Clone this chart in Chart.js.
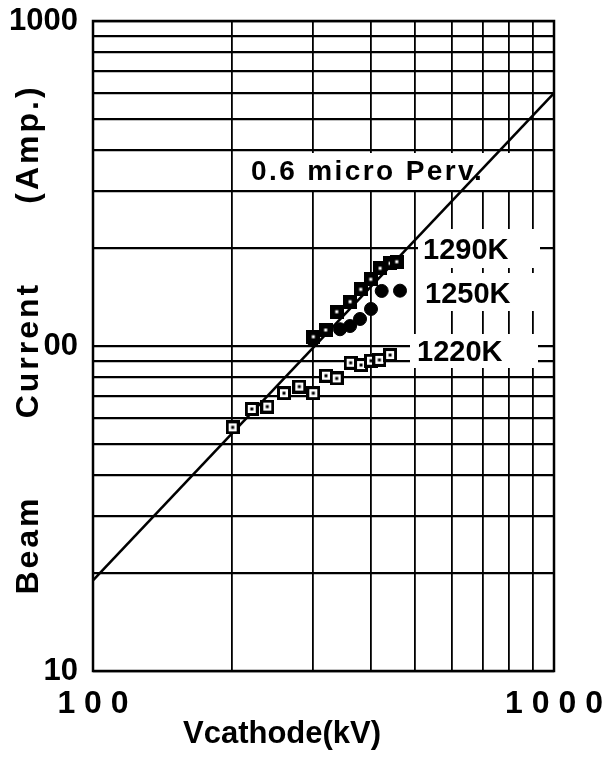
<!DOCTYPE html>
<html>
<head>
<meta charset="utf-8">
<script src="https://cdn.jsdelivr.net/npm/chart.js@4.4.1/dist/chart.umd.min.js"></script>
<style>
  html, body { margin: 0; padding: 0; background: #fff; }
  #wrap { width: 602px; height: 757px; position: relative; }
</style>
</head>
<body>
<div id="wrap"><canvas id="c" width="602" height="757"></canvas></div>
<script>
// ---- data ----
const v1290 = [300.5, 319.7, 337.8, 361.1, 380.8, 400.4, 419.5, 441.0, 455.9];
const i1290 = [106.8, 112.0, 127.5, 136.9, 149.4, 160.4, 173.4, 179.6, 181.7];

const v1250 = [300.0, 343.4, 361.1, 379.5, 400.9, 422.9, 463.4];
const i1250 = [104.3, 112.6, 115.2, 121.1, 130.0, 147.7, 148.0];

const v1220 = [200.9, 221.0, 238.8, 259.6, 280.2, 300.5, 320.2, 337.8, 362.2, 381.4, 400.9, 418.0, 441.0];
const i1220 = [56.2, 64.0, 65.1, 71.6, 75.0, 71.6, 81.0, 79.5, 88.8, 87.4, 90.1, 90.6, 93.8];

const vLine = [100, 1000];   // 0.6 micro-perveance line end points
const iLine = [19.0, 600];

const xGridValues = [100, 200, 300, 400, 500, 600, 700, 800, 900, 1000];
const yGridValues = [10, 20, 30, 40, 50, 60, 70, 80, 90, 100, 200, 300, 400, 500, 600, 700, 800, 900, 1000];
const xTickValues = [100, 1000];
const xTickText = ['1 0 0', '1 0 0 0'];
const yTickValues = [10, 100, 1000];
const yTickText = ['10', '00', '1000'];   // the "1" of 100 is lost in the reference print

const seriesNames = ['1290K', '1250K', '1220K'];
const lineName = '0.6 micro Perv.';
const xTitle = 'Vcathode(kV)';
const yTitleWords = ['Beam', 'Current', '(Amp.)'];

// ---- styling helpers ----
const FONT = '"Liberation Sans", Arial, Helvetica, sans-serif';

function squareMarker(fill, dot) {
  const c = document.createElement('canvas');
  c.width = 14; c.height = 14;
  const g = c.getContext('2d');
  g.fillStyle = '#000';
  g.fillRect(0, 0, 14, 14);
  if (fill !== '#000') {
    g.fillStyle = fill;
    g.fillRect(3, 3, 8, 8);
  }
  g.fillStyle = dot;
  g.fillRect(5.5, 5.5, 3, 3);
  return c;
}
const mark1290 = squareMarker('#000', '#fff');
const mark1220 = squareMarker('#fff', '#000');

const zip = (xs, ys) => xs.map((x, k) => ({ x: x, y: ys[k] }));

const annot = {
  id: 'annot',
  beforeDatasetsDraw(chart) {
    const ctx = chart.ctx;
    ctx.save();
    // white label boxes (they hide the grid in the reference)
    ctx.fillStyle = '#fff';
    ctx.fillRect(236, 153, 282, 37);
    ctx.fillRect(418, 229, 122, 39);
    ctx.fillRect(418, 273, 122, 38);
    ctx.fillRect(410, 334, 128, 34);
    ctx.fillStyle = '#000';
    ctx.textBaseline = 'alphabetic';
    ctx.textAlign = 'left';
    ctx.font = 'bold 28px ' + FONT;
    ctx.letterSpacing = '2.4px';
    ctx.fillText(lineName, 251, 180);
    ctx.letterSpacing = '0px';
    ctx.font = 'bold 29px ' + FONT;
    ctx.fillText(seriesNames[0], 423, 259);
    ctx.fillText(seriesNames[1], 425, 303);
    ctx.fillText(seriesNames[2], 417, 361);
    ctx.restore();
  },
  afterDraw(chart) {
    const ctx = chart.ctx;
    const a = chart.chartArea;
    ctx.save();
    ctx.strokeStyle = '#000';
    ctx.lineWidth = 2.5;
    ctx.strokeRect(a.left, a.top, a.right - a.left, a.bottom - a.top);
    // axis titles
    ctx.fillStyle = '#000';
    ctx.font = 'bold 31px ' + FONT;
    ctx.textAlign = 'left';
    ctx.textBaseline = 'alphabetic';
    ctx.fillText(xTitle, 183, 743);
    ctx.font = 'bold 32px ' + FONT;
    ctx.letterSpacing = '3px';
    ctx.translate(38, 0);
    ctx.rotate(-Math.PI / 2);
    ctx.textAlign = 'center';
    // rotated: x coordinate = -pageY
    const centers = [545, 350, 144];
    yTitleWords.forEach((w, k) => ctx.fillText(w, -centers[k], 0));
    ctx.letterSpacing = '0px';
    ctx.restore();
  }
};

new Chart(document.getElementById('c'), {
  type: 'scatter',
  data: {
    datasets: [
      {
        label: lineName,
        type: 'line',
        data: zip(vLine, iLine),
        borderColor: '#000',
        borderWidth: 2.5,
        pointRadius: 0,
        fill: false,
        order: 4
      },
      {
        label: seriesNames[2],
        data: zip(v1220, i1220),
        pointStyle: mark1220,
        order: 3
      },
      {
        label: seriesNames[1],
        data: zip(v1250, i1250),
        pointStyle: 'circle',
        pointRadius: 6.5,
        backgroundColor: '#000',
        borderColor: '#000',
        order: 2
      },
      {
        label: seriesNames[0],
        data: zip(v1290, i1290),
        pointStyle: mark1290,
        order: 1
      }
    ]
  },
  options: {
    responsive: false,
    animation: false,
    devicePixelRatio: 1,
    layout: { padding: { top: 21, right: 48, left: 0, bottom: 0 } },
    plugins: { legend: { display: false }, tooltip: { enabled: false } },
    scales: {
      x: {
        type: 'logarithmic',
        min: 100, max: 1000,
        grid: { color: '#000', lineWidth: 1.8, borderDash: [1.5, 1.5], drawTicks: false },
        border: { display: false },
        afterBuildTicks: (s) => { s.ticks = xGridValues.map(v => ({ value: v })); },
        ticks: {
          autoSkip: false,
          maxRotation: 0,
          padding: 14,
          color: '#000',
          font: { family: FONT, size: 32, weight: 'bold' },
          callback: (v) => { const k = xTickValues.indexOf(Number(v)); return k >= 0 ? xTickText[k] : ''; }
        },
        afterFit: (s) => { s.height = 86; s.paddingLeft = 0; s.paddingRight = 0; }
      },
      y: {
        type: 'logarithmic',
        min: 10, max: 1000,
        grid: { color: '#000', lineWidth: 2.2, borderDash: [2, 1], drawTicks: false },
        border: { display: false },
        afterBuildTicks: (s) => { s.ticks = yGridValues.map(v => ({ value: v })); },
        ticks: {
          autoSkip: false,
          padding: 15,
          color: '#000',
          font: { family: FONT, size: 31, weight: 'bold' },
          callback: (v) => { const k = yTickValues.indexOf(Number(v)); return k >= 0 ? yTickText[k] : ''; }
        },
        afterFit: (s) => { s.width = 93; s.paddingTop = 0; s.paddingBottom = 0; }
      }
    }
  },
  plugins: [annot]
});
</script>
</body>
</html>
